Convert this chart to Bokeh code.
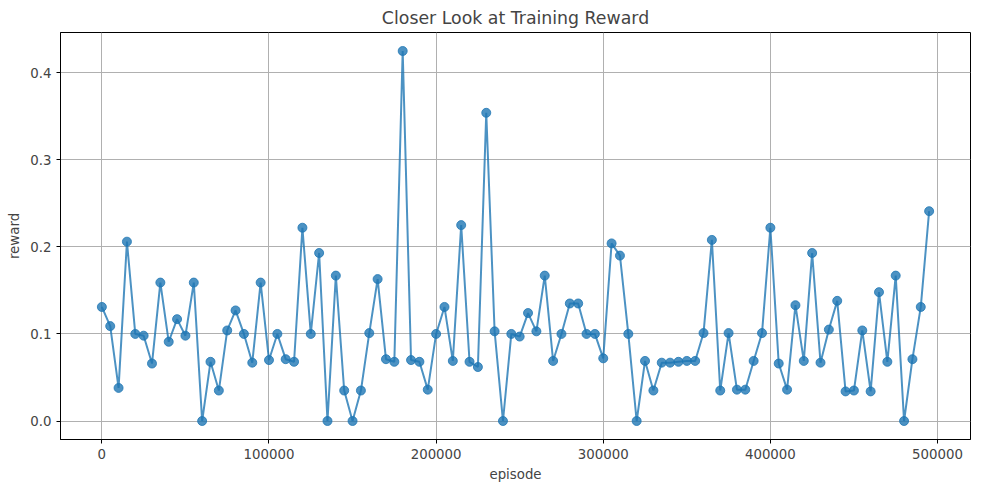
from bokeh.plotting import figure
from bokeh.models import Range1d, NumeralTickFormatter, FixedTicker
from bokeh.embed import file_html
from bokeh.resources import INLINE

episodes = list(range(0, 500000, 5000))
reward = [
    0.131, 0.109, 0.038, 0.206, 0.100, 0.098, 0.066, 0.159, 0.091, 0.117,
    0.098, 0.159, 0.000, 0.068, 0.035, 0.104, 0.127, 0.100, 0.067, 0.159,
    0.070, 0.100, 0.071, 0.068, 0.222, 0.100, 0.193, 0.000, 0.167, 0.035,
    0.000, 0.035, 0.101, 0.163, 0.071, 0.068, 0.425, 0.070, 0.068, 0.036,
    0.100, 0.131, 0.069, 0.225, 0.068, 0.062, 0.354, 0.103, 0.000, 0.100,
    0.097, 0.124, 0.103, 0.167, 0.069, 0.100, 0.135, 0.135, 0.100, 0.100,
    0.072, 0.204, 0.190, 0.100, 0.000, 0.069, 0.035, 0.067, 0.067, 0.068,
    0.069, 0.069, 0.101, 0.208, 0.035, 0.101, 0.036, 0.036, 0.069, 0.101,
    0.222, 0.066, 0.036, 0.133, 0.069, 0.193, 0.067, 0.105, 0.138, 0.034,
    0.035, 0.104, 0.034, 0.148, 0.068, 0.167, 0.000, 0.071, 0.131, 0.241,
]
x_ticks = [0, 100000, 200000, 300000, 400000, 500000]
y_ticks = [0.0, 0.1, 0.2, 0.3, 0.4]

p = figure(width=984, height=484, output_backend="svg", toolbar_location=None,
           title="Closer Look at Training Reward",
           x_axis_label="episode", y_axis_label="reward",
           x_range=Range1d(-24750, 519750), y_range=Range1d(-0.02125, 0.44625),
           min_border_left=60, min_border_right=14, min_border_top=10, min_border_bottom=40)

color = "#1f77b4"
p.line(episodes, reward, line_color=color, line_width=2, line_alpha=0.8)
p.scatter(episodes, reward, size=9, fill_color=color, line_color=color, alpha=0.8)

p.title.align = "center"
p.title.text_font = "DejaVu Sans"
p.title.text_font_size = "13pt"
p.title.text_font_style = "normal"

for ax in (p.xaxis, p.yaxis):
    ax.axis_label_text_font = "DejaVu Sans"
    ax.axis_label_text_font_size = "10pt"
    ax.axis_label_text_font_style = "normal"
    ax.major_label_text_font = "DejaVu Sans"
    ax.major_label_text_font_size = "10pt"
    ax.minor_tick_line_color = None
    ax.major_tick_out = 4
    ax.major_tick_in = 0
    ax.axis_line_color = "black"
p.xaxis.ticker = FixedTicker(ticks=x_ticks)
p.yaxis.ticker = FixedTicker(ticks=y_ticks)
p.xaxis.formatter = NumeralTickFormatter(format="0")
p.yaxis.formatter = NumeralTickFormatter(format="0.0")

p.grid.grid_line_color = "#b0b0b0"
p.grid.grid_line_width = 1
p.outline_line_color = "black"
p.outline_line_alpha = 1

open("out.html", "w").write(file_html(p, INLINE))
